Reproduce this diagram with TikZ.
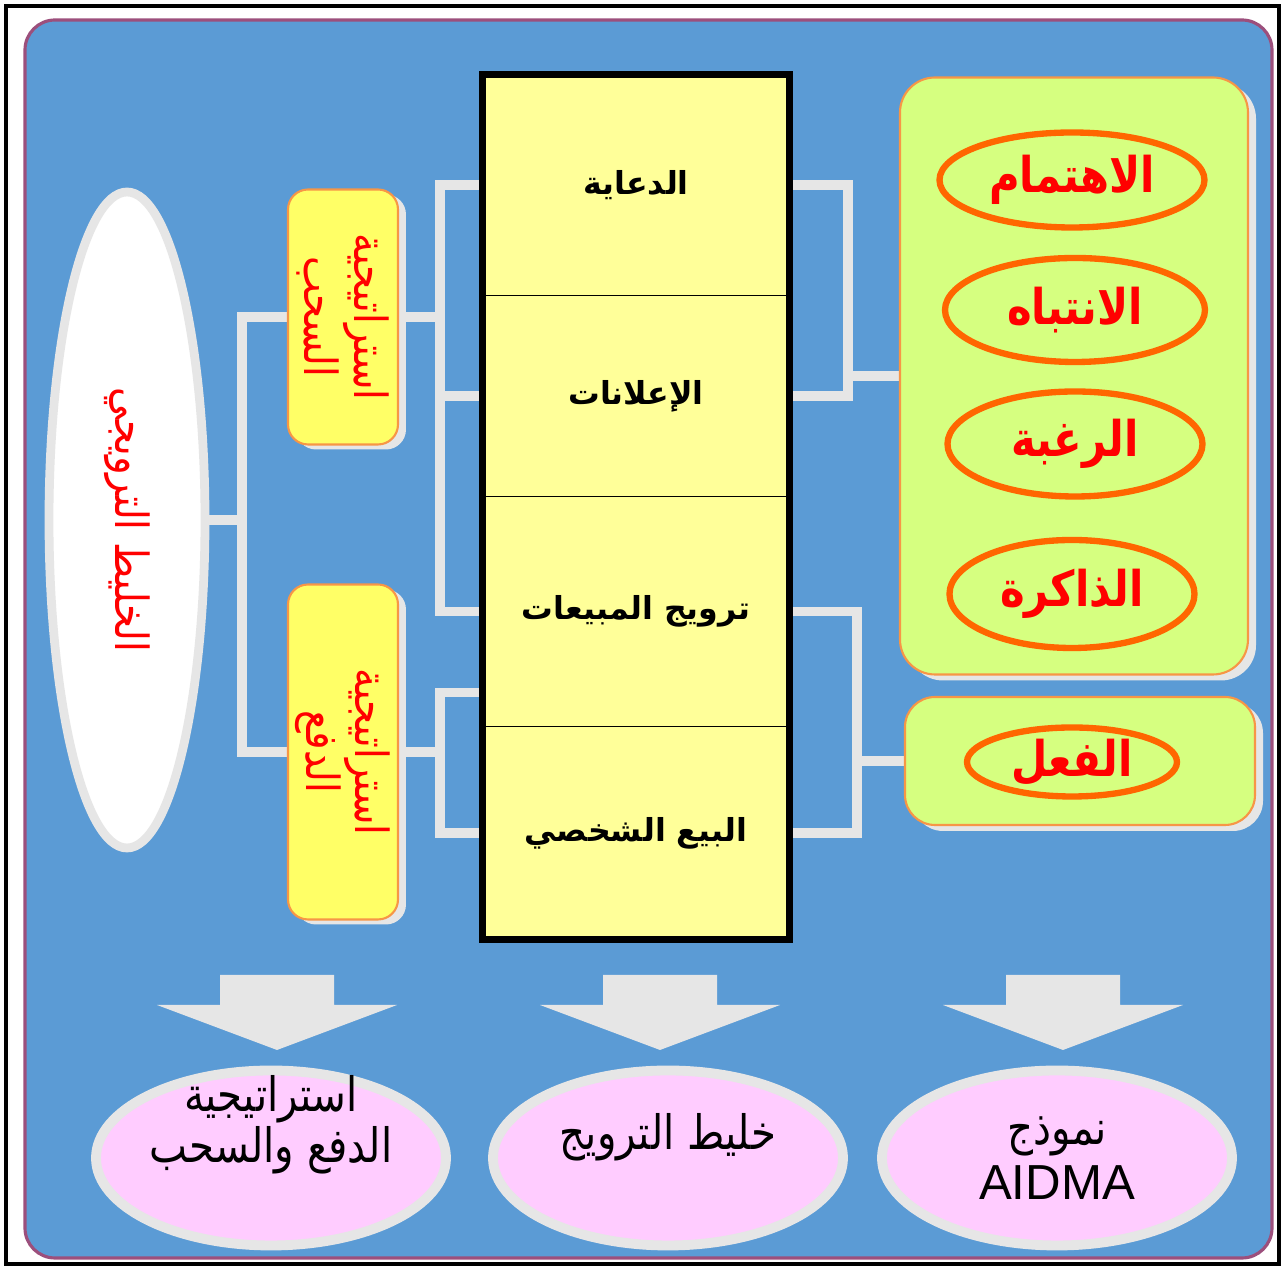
\documentclass[tikz,border=0pt]{standalone}
\usepackage{fontspec}
\setmainfont{Liberation Sans}
\newfontfamily\arabicfont[Script=Arabic]{DejaVu Sans}
\newfontfamily\arabicnarrow[Script=Arabic, FakeStretch=0.85]{DejaVu Sans}
\TeXXeTstate=1
\usepackage{tikz}
\usetikzlibrary{positioning, calc, backgrounds, shadows, shapes.geometric}

\definecolor{bgblue}{HTML}{5B9BD5}
\definecolor{framecol}{HTML}{9C4F7C}
\definecolor{linkgray}{HTML}{E6E6E6}
\definecolor{cellyellow}{HTML}{FFFF99}
\definecolor{boxyellow}{HTML}{FFFF66}
\definecolor{boxgreen}{HTML}{D6FF80}
\definecolor{edgeorange}{HTML}{F79646}
\definecolor{ringorange}{HTML}{FF6600}
\definecolor{pinkfill}{HTML}{FFCCFF}

\begin{document}
\begin{tikzpicture}[x=0.1mm, y=-0.1mm,
    link/.style={draw=linkgray, line width=2.8pt},
    cell/.style={draw=black, line width=0.5pt, fill=cellyellow, minimum width=30.7mm,
        inner sep=0pt, outer sep=0pt, font=\arabicfont\bfseries\fontsize{9}{11}\selectfont},
    stratbox/.style={draw=edgeorange, fill=boxyellow, line width=0.6pt, rounded corners=2mm,
        minimum width=11mm, drop shadow={shadow xshift=0.8mm, shadow yshift=-0.5mm, fill=linkgray, opacity=1}},
    stagebox/.style={draw=edgeorange, fill=boxgreen, line width=0.6pt, rounded corners=3.5mm,
        minimum width=34.8mm, drop shadow={shadow xshift=0.8mm, shadow yshift=-0.6mm, fill=linkgray, opacity=1}},
    stage/.style={ellipse, draw=ringorange, line width=1.8pt, inner sep=0pt,
        text=red, font=\arabicnarrow\bfseries\fontsize{14}{16}\selectfont},
    result/.style={ellipse, draw=linkgray, fill=pinkfill, line width=2.8pt,
        minimum width=35mm, minimum height=17.5mm},
    redtext/.style={text=red, font=\arabicnarrow\fontsize{13}{13}\selectfont, align=center},
    restext/.style={font=\arabicnarrow\fontsize{13.5}{13.5}\selectfont, align=center}]

\useasboundingbox (0,0) rectangle (1285,1270);
\draw[line width=1.3pt] (6,6) rectangle (1279,1264);
\begin{scope}[on background layer]
\draw[draw=framecol, fill=bgblue, line width=0.9pt, rounded corners=3mm] (25,20) rectangle (1272,1258);
\end{scope}

% left side
\node[ellipse, draw=linkgray, fill=white, line width=2.5pt, minimum width=15.6mm, minimum height=65.6mm,
    label={[redtext, rotate=-90]center:\beginR الخليط الترويجي\endR}] (mix) at (127,520) {};
\node[stratbox, minimum height=25.5mm,
    label={[redtext, rotate=-90]center:\beginR استراتيجية\endR\\\beginR السحب\endR}] (pull) at (343,317) {};
\node[stratbox, minimum height=33.5mm,
    label={[redtext, rotate=-90]center:\beginR استراتيجية\endR\\\beginR الدفع\endR}] (push) at (343,752) {};

% promotion mix
\node[cell, minimum height=22.1mm] (adv) at (636,185) {\beginR الدعاية\endR};
\node[cell, minimum height=20.1mm, below=0pt of adv] (pub) {\beginR الإعلانات\endR};
\node[cell, minimum height=23mm, below=0pt of pub] (promo) {\beginR ترويج المبيعات\endR};
\node[cell, minimum height=21.3mm, below=0pt of promo] (sell) {\beginR البيع الشخصي\endR};
\draw[line width=2pt] (adv.north west) rectangle (sell.south east);

% AIDMA
\node[stagebox, minimum height=59.7mm] (aida) at (1074,376) {};
\node[stage, minimum width=26.5mm, minimum height=9.5mm] (att) at (1072,180) {\beginR الاهتمام\endR};
\node[stage, minimum width=26mm, minimum height=10.4mm] (int) at (1075,310) {\beginR الانتباه\endR};
\node[stage, minimum width=25.5mm, minimum height=10.5mm] (des) at (1075,444) {\beginR الرغبة\endR};
\node[stage, minimum width=24.5mm, minimum height=10.8mm] (mem) at (1072,594) {\beginR الذاكرة\endR};
\node[stagebox, minimum width=35mm, minimum height=12.8mm, rounded corners=3mm] (act) at (1080,761) {};
\node[stage, minimum width=21mm, minimum height=6.9mm] (doact) at (1072,762) {\beginR الفعل\endR};

% connectors
\coordinate (jmix) at (242,517);
\coordinate (jpull) at (440,320);
\coordinate (jpush) at (440,752);
\coordinate (jaida) at (848,377);
\coordinate (jact) at (857,762);
\begin{scope}[on background layer]
\draw[link] (mix.east) -- (jmix |- mix.east);
\draw[link] (pull.west) -| (jmix) |- (push.west);
\draw[link] (pull.east) -- (jpull |- pull.east);
\draw[link] (adv.west) -| (jpull) |- (promo.west);
\draw[link] (pub.west) -- (jpull |- pub.west);
\draw[link] (push.east) -- (jpush |- push.east);
\draw[link] ($(promo.south west)+(0,-34)$) -| (jpush) |- (sell.west);
\draw[link] (adv.east) -| (jaida) |- (pub.east);
\draw[link] (aida.west) -- (jaida |- aida.west);
\draw[link] (promo.east) -| (jact) |- (sell.east);
\draw[link] (act.west) -- (jact |- act.west);
\end{scope}

% arrows down
\fill[linkgray] (220,975) -- (334,975) -- (334,1005) -- (397,1005) -- (277,1050) -- (157,1005) -- (220,1005) -- cycle;
\fill[linkgray] (603,975) -- (717,975) -- (717,1005) -- (780,1005) -- (660,1050) -- (540,1005) -- (603,1005) -- cycle;
\fill[linkgray] (1006,975) -- (1120,975) -- (1120,1005) -- (1183,1005) -- (1063,1050) -- (943,1005) -- (1006,1005) -- cycle;

% results
\node[result, label={[restext, yshift=3.3mm]center:\beginR استراتيجية\endR\\\beginR الدفع والسحب\endR}] (pushpull) at (271,1158) {};
\node[result, label={[restext, yshift=2.1mm]center:\beginR خليط الترويج\endR}] (mixres) at (668,1158) {};
\node[result, label={[restext]center:\beginR نموذج\endR\\[2pt]{\rmfamily\fontsize{14}{14}\selectfont AIDMA}}] (aidmares) at (1057,1158) {};

\end{tikzpicture}
\end{document}
